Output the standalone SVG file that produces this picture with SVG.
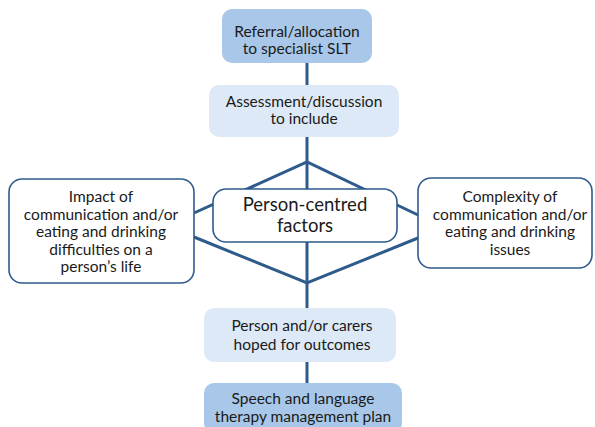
<svg xmlns="http://www.w3.org/2000/svg" width="595" height="427" viewBox="0 0 595 427">
<style>
text{font-family:Lato,"Open Sans",sans-serif;fill:#1a1a1a;text-anchor:middle}
.t{font-size:15.5px}
.s{font-size:15.5px}
.c{font-size:18.5px}
.dark{fill:#a9c7e8}
.light{fill:#dde9f6}
.out{fill:#fff;stroke:#2e5b8c;stroke-width:1.6}
.ln{stroke:#2e5b8c;stroke-width:3;fill:none}
</style>
<rect width="595" height="427" fill="#fff"/>
<g id="connectors">
<line class="ln" x1="307" y1="62" x2="307" y2="86"/>
<line class="ln" x1="307" y1="137" x2="307" y2="309"/>
<polyline class="ln" points="194,213 307,162 418,215"/>
<polyline class="ln" points="194,237 307,283 418,238"/>
<line class="ln" x1="307" y1="361" x2="307" y2="384"/>
</g>
<g id="referral">
<rect class="dark" x="222" y="9" width="150" height="54" rx="10"/>
<text class="t" x="297" y="37">Referral/allocation</text>
<text class="t" x="297" y="54">to specialist SLT</text>
</g>
<g id="assessment">
<rect class="light" x="209" y="85" width="190" height="52" rx="10"/>
<text class="t" x="304" y="107">Assessment/discussion</text>
<text class="t" x="304" y="124">to include</text>
</g>
<g id="impact">
<rect class="out" x="9" y="179" width="185" height="104" rx="13"/>
<text class="s" x="101" y="202">Impact of</text>
<text class="s" x="101" y="219.5">communication and/or</text>
<text class="s" x="101" y="237">eating and drinking</text>
<text class="s" x="101" y="254.5">difficulties on a</text>
<text class="s" x="101" y="272">person’s life</text>
</g>
<g id="person-centred">
<rect class="out" x="213" y="189" width="184" height="53" rx="13"/>
<text class="c" x="305" y="211">Person-centred</text>
<text class="c" x="305" y="232">factors</text>
</g>
<g id="complexity">
<rect class="out" x="418" y="178" width="174" height="90" rx="13"/>
<text class="s" x="510" y="202">Complexity of</text>
<text class="s" x="510" y="219.5">communication and/or</text>
<text class="s" x="510" y="237">eating and drinking</text>
<text class="s" x="510" y="254.5">issues</text>
</g>
<g id="outcomes">
<rect class="light" x="204" y="308" width="192" height="54" rx="10"/>
<text class="t" x="302" y="331">Person and/or carers</text>
<text class="t" x="302" y="350">hoped for outcomes</text>
</g>
<g id="plan">
<rect class="dark" x="204" y="383" width="198" height="50" rx="10"/>
<text class="t" x="303" y="404">Speech and language</text>
<text class="t" x="303" y="422">therapy management plan</text>
</g>
</svg>
